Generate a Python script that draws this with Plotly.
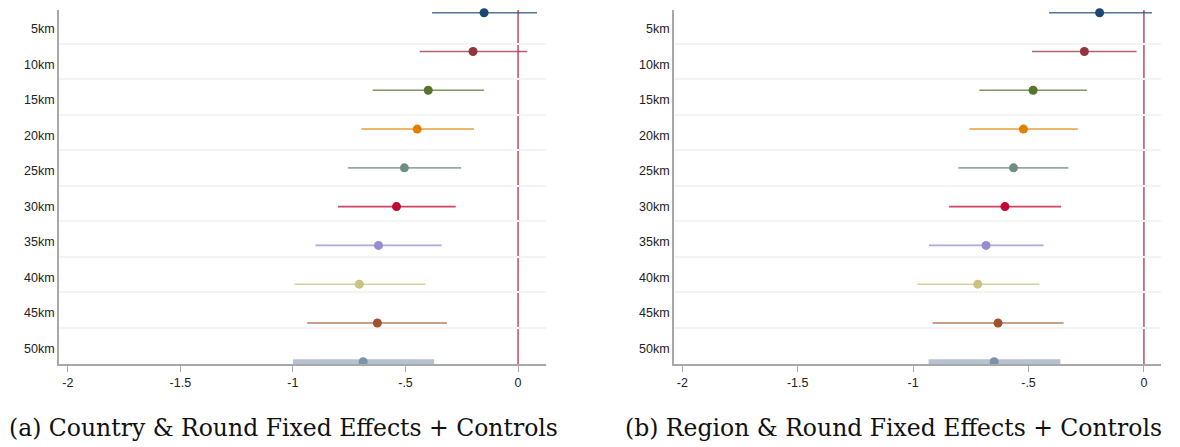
import plotly.graph_objects as go

labels = ["5km", "10km", "15km", "20km", "25km", "30km", "35km", "40km", "45km", "50km"]
positions = [1, 2, 3, 4, 5, 6, 7, 8, 9, 10]

coef_a = [-0.151, -0.200, -0.399, -0.448, -0.505, -0.540, -0.620, -0.705, -0.625, -0.688]
lo_a = [-0.382, -0.437, -0.646, -0.696, -0.756, -0.800, -0.900, -0.993, -0.936, -1.000]
hi_a = [0.084, 0.041, -0.151, -0.196, -0.253, -0.277, -0.340, -0.412, -0.316, -0.373]

coef_b = [-0.192, -0.258, -0.480, -0.522, -0.565, -0.602, -0.684, -0.720, -0.632, -0.649]
lo_b = [-0.411, -0.485, -0.713, -0.756, -0.804, -0.844, -0.931, -0.981, -0.916, -0.933]
hi_b = [0.035, -0.032, -0.247, -0.286, -0.327, -0.359, -0.435, -0.453, -0.348, -0.362]

colors = ["#1a476f", "#90353b", "#55752f", "#e37e00", "#6e8e84",
          "#c10534", "#938dd2", "#cac27e", "#a0522d", "#7b92a8"]
ci_widths = [1.6, 1.6, 1.6, 1.6, 1.6, 1.6, 1.6, 1.6, 1.6, 5]

x_tickvals = [-2, -1.5, -1, -0.5, 0]
x_ticktext = ["-2", "-1.5", "-1", "-.5", "0"]
grid_vals = [1.42, 2.42, 3.42, 4.42, 5.42, 6.42, 7.42, 8.42, 9.42]

captions = ["(a) Country & Round Fixed Effects + Controls",
            "(b) Region & Round Fixed Effects + Controls"]

W, H = 1180, 447
top_px, bot_px = 10, 364
ydom = [1 - bot_px / H, 1 - top_px / H]

fig = go.Figure()

panels = [
    dict(coef=coef_a, lo=lo_a, hi=hi_a, xa="x", ya="y", xdom=[59 / W, 546 / W], xr=[-2.039, 0.124]),
    dict(coef=coef_b, lo=lo_b, hi=hi_b, xa="x2", ya="y2", xdom=[674 / W, 1161 / W], xr=[-2.036, 0.074]),
]

for p in panels:
    fig.add_shape(type="line", xref=p["xa"], yref=p["ya"] + " domain",
                  x0=0, x1=0, y0=0, y1=1, line=dict(color="#c95470", width=1.6),
                  layer="below")
    for i in range(len(labels)):
        fig.add_trace(go.Scatter(
            x=[p["lo"][i], p["hi"][i]], y=[positions[i], positions[i]],
            mode="lines", line=dict(color=colors[i], width=ci_widths[i]),
            opacity=0.75 if i < 9 else 0.55, cliponaxis=False,
            xaxis=p["xa"], yaxis=p["ya"], showlegend=False, hoverinfo="skip"))
    for i in range(len(labels)):
        fig.add_trace(go.Scatter(
            x=[p["coef"][i]], y=[positions[i]], mode="markers",
            marker=dict(color=colors[i], size=9, line=dict(width=0)),
            cliponaxis=False,
            xaxis=p["xa"], yaxis=p["ya"], showlegend=False))

tickfont = dict(family="Liberation Sans, Arial, sans-serif", size=12.5, color="#222")
axis_line = dict(showline=True, linecolor="#a8a8a8", linewidth=1.6)

xcommon = dict(tickmode="array", tickvals=x_tickvals, ticktext=x_ticktext,
               ticks="outside", ticklen=6, tickwidth=1.3, tickcolor="#a8a8a8",
               showgrid=False, zeroline=False, tickfont=tickfont, **axis_line)

ypoints = dict(range=[10.058, 0.930], showticklabels=False, ticks="", showgrid=False,
               zeroline=False, showline=False, domain=ydom)

ylabels = dict(range=[10.435, 0.465], tickmode="array", tickvals=positions, ticktext=labels,
               ticks="", showgrid=False, zeroline=False, tickfont=tickfont,
               minor=dict(tickmode="array", tickvals=grid_vals, showgrid=True,
                          gridcolor="#f4f4f4", gridwidth=2, ticks=""),
               **axis_line)

fig.update_layout(
    width=W, height=H, margin=dict(l=0, r=0, t=0, b=0),
    plot_bgcolor="white", paper_bgcolor="white",
    xaxis=dict(domain=panels[0]["xdom"], anchor="y", range=panels[0]["xr"], **xcommon),
    xaxis2=dict(domain=panels[1]["xdom"], anchor="y2", range=panels[1]["xr"], **xcommon),
    yaxis=dict(anchor="x", **ypoints),
    yaxis2=dict(anchor="x2", **ypoints),
    yaxis3=dict(overlaying="y", anchor="x", side="left", **ylabels),
    yaxis4=dict(overlaying="y2", anchor="x2", side="left", **ylabels),
)

# empty traces so the overlaying label axes are drawn
fig.add_trace(go.Scatter(x=[None], y=[None], xaxis="x", yaxis="y3", showlegend=False))
fig.add_trace(go.Scatter(x=[None], y=[None], xaxis="x2", yaxis="y4", showlegend=False))

cap_x = [283 / W, 893 / W]
for cx, txt in zip(cap_x, captions):
    fig.add_annotation(x=cx, y=1 - 428 / H, xref="paper", yref="paper", text=txt,
                       showarrow=False, xanchor="center", yanchor="middle",
                       font=dict(family="DejaVu Serif, serif", size=23.5, color="#111"))

fig.write_html("out.html")
